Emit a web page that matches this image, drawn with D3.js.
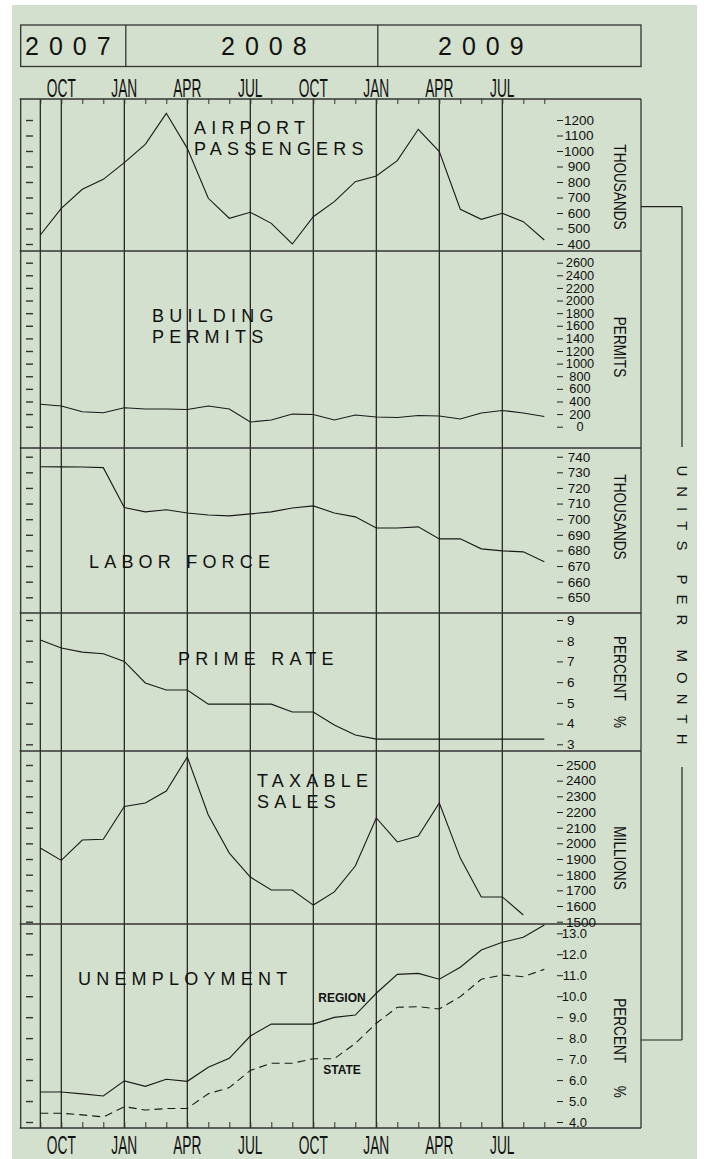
<!DOCTYPE html>
<html>
<head>
<meta charset="utf-8">
<script src="https://cdn.jsdelivr.net/npm/d3@7"></script>
<style>
  body { margin: 0; background: #fff; }
  svg text { font-family: "Liberation Sans", Arial, sans-serif; fill: #111; }
</style>
</head>
<body>
<div id="chart"></div>
<script>
// months plotted, Sep 2007 .. Sep 2009
const months = ["2007-09","2007-10","2007-11","2007-12","2008-01","2008-02","2008-03","2008-04",
  "2008-05","2008-06","2008-07","2008-08","2008-09","2008-10","2008-11","2008-12","2009-01",
  "2009-02","2009-03","2009-04","2009-05","2009-06","2009-07","2009-08","2009-09"];
const quarterMonths = ["2007-10","2008-01","2008-04","2008-07","2008-10","2009-01","2009-04","2009-07"];
const quarterLabels = ["OCT","JAN","APR","JUL","OCT","JAN","APR","JUL"];
const gridMonths = ["2007-09","2007-10","2008-01","2008-04","2008-07","2008-10","2009-01","2009-04","2009-07"];
const years = ["2007","2008","2009"];

const airportPassengers = [458,630,753,817,925,1043,1243,1017,695,566,605,533,400,576,673,802,839,938,1140,996,624,559,598,544,426];
const buildingPermits = [355,328,238,222,301,280,280,272,328,280,75,106,200,193,106,185,154,146,177,170,122,217,257,217,162];
const laborForce = [733.6,733.5,733.4,733.0,707.4,704.7,706.0,704.0,702.7,702.1,703.4,704.7,707.2,708.5,704.0,701.5,694.4,694.4,695.1,687.4,687.4,681.0,679.7,679.1,672.7];
const primeRate = [8.03,7.65,7.45,7.37,7.0,5.96,5.62,5.62,4.94,4.94,4.94,4.94,4.56,4.56,3.93,3.45,3.25,3.25,3.25,3.25,3.25,3.25,3.25,3.25,3.25];
const taxableSales = [1970,1891,2021,2026,2235,2257,2334,2551,2181,1938,1785,1702,1702,1606,1690,1855,2162,2009,2047,2257,1906,1658,1658,1543,null];
const unemploymentRegion = [5.43,5.43,5.34,5.24,5.96,5.70,6.04,5.94,6.61,7.04,8.10,8.67,8.67,8.67,8.99,9.10,10.14,11.04,11.09,10.81,11.38,12.20,12.57,12.81,13.40];
const unemploymentState = [4.42,4.42,4.34,4.24,4.73,4.57,4.64,4.65,5.35,5.64,6.46,6.80,6.80,7.02,7.02,7.75,8.71,9.47,9.50,9.39,9.98,10.81,11.01,10.93,11.28];

const airportTicks = [400,500,600,700,800,900,1000,1100,1200];
const permitTicks = [0,200,400,600,800,1000,1200,1400,1600,1800,2000,2200,2400,2600];
const laborTicks = [650,660,670,680,690,700,710,720,730,740];
const primeTicks = [3,4,5,6,7,8,9];
const taxableTicks = [1500,1600,1700,1800,1900,2000,2100,2200,2300,2400,2500];
const unempTicks = [4,5,6,7,8,9,10,11,12,13];

const width = 704, height = 1159;
const plotLeft = 20.7, plotRight = 641, plotTop = 99, plotBottom = 1128;
const panelEdges = [99, 251, 448, 613, 751, 924, 1128];
const lineColor = "#1a1a1a";

const svg = d3.select("#chart").append("svg")
  .attr("width", width).attr("height", height);

svg.append("rect")
  .attr("x", 12).attr("y", 5).attr("width", 685).attr("height", height - 5)
  .attr("fill", "#d3e0cd");

let x = d3.scalePoint().domain(months).range([40.3, 544.3]);

// header with years
let header = svg.append("g");
header.append("rect")
  .attr("x", plotLeft).attr("y", 25).attr("width", plotRight - plotLeft).attr("height", 41.5)
  .attr("fill", "none").attr("stroke", "#333").attr("stroke-width", 1.3);
[x("2008-01") + 1.5, x("2009-01") + 1.5].forEach(function(d) {
  header.append("line").attr("x1", d).attr("x2", d).attr("y1", 25).attr("y2", 66.5)
    .attr("stroke", "#333").attr("stroke-width", 1.3);
});
let yearX = [25, 221, 438];
header.selectAll(".year").data(years).enter().append("text")
  .attr("class", "year")
  .attr("x", function(d, i) { return yearX[i]; })
  .attr("y", 55)
  .attr("font-size", 25)
  .attr("letter-spacing", 10)
  .text(function(d) { return d; });

// panel frame + grid
let frame = svg.append("g");
frame.selectAll(".vgrid").data(gridMonths).enter().append("line")
  .attr("x1", function(d) { return x(d); }).attr("x2", function(d) { return x(d); })
  .attr("y1", plotTop).attr("y2", plotBottom)
  .attr("stroke", lineColor).attr("stroke-width", 1.2);
frame.selectAll(".hgrid").data(panelEdges).enter().append("line")
  .attr("x1", plotLeft - 1).attr("x2", plotRight)
  .attr("y1", function(d) { return d; }).attr("y2", function(d) { return d; })
  .attr("stroke", "#333").attr("stroke-width", 1.3);
[plotLeft, plotRight].forEach(function(d) {
  frame.append("line").attr("x1", d).attr("x2", d).attr("y1", plotTop).attr("y2", plotBottom)
    .attr("stroke", "#333").attr("stroke-width", 1.3);
});

// month ticks top and bottom
svg.append("g").attr("transform", "translate(0," + plotTop + ")")
  .call(d3.axisBottom(x).tickSize(5).tickFormat(""))
  .call(function(g) { g.select(".domain").remove(); g.selectAll("line").attr("stroke", "#333"); });
svg.append("g").attr("transform", "translate(0," + plotBottom + ")")
  .call(d3.axisTop(x).tickSize(6).tickFormat(""))
  .call(function(g) { g.select(".domain").remove(); g.selectAll("line").attr("stroke", "#333"); });

// quarter labels, tall narrow lettering
[97, 1154].forEach(function(base) {
  svg.selectAll(null).data(quarterLabels).enter().append("text")
    .attr("transform", function(d, i) {
      return "translate(" + x(quarterMonths[i]) + "," + base + ") scale(0.55,1)";
    })
    .attr("text-anchor", "middle")
    .attr("font-size", 25)
    .text(function(d) { return d; });
});

// panels
let panels = [
  { values: airportPassengers, ticks: airportTicks, domain: [400, 1200], range: [244, 120],
    unit: "THOUSANDS", unitY: 187, fmt: d3.format("d"), anchor: "middle", lx: 22, fs: 13.5,
    title: ["AIRPORT", "PASSENGERS"], tx: 194, ty: [134, 155] },
  { values: buildingPermits, ticks: permitTicks, domain: [0, 2600], range: [426.7, 262.7],
    unit: "PERMITS", unitY: 347, fmt: d3.format("d"), anchor: "middle", lx: 23, fs: 12.8,
    title: ["BUILDING", "PERMITS"], tx: 152, ty: [322, 343] },
  { values: laborForce, ticks: laborTicks, domain: [650, 740], range: [597.3, 456.7],
    unit: "THOUSANDS", unitY: 517, fmt: d3.format("d"), anchor: "middle", lx: 22, fs: 13.5,
    title: ["LABOR FORCE"], tx: 89, ty: [568] },
  { values: primeRate, ticks: primeTicks, domain: [3, 9], range: [744.3, 620],
    unit: "PERCENT\u00a0\u00a0\u00a0\u00a0%", unitY: 682, fmt: d3.format("d"), anchor: "start", lx: 10, fs: 13.5,
    title: ["PRIME RATE"], tx: 178, ty: [665] },
  { values: taxableSales, ticks: taxableTicks, domain: [1500, 2500], range: [921.7, 765],
    unit: "MILLIONS", unitY: 858, fmt: d3.format("d"), anchor: "middle", lx: 24, fs: 13.5,
    title: ["TAXABLE", "SALES"], tx: 257, ty: [787, 808] },
  { values: unemploymentRegion, extra: unemploymentState, ticks: unempTicks, domain: [4, 13], range: [1122, 933.3],
    unit: "PERCENT\u00a0\u00a0\u00a0\u00a0\u00a0\u00a0%", unitY: 1048, fmt: d3.format(".1f"), anchor: "end", lx: 30, fs: 13,
    title: ["UNEMPLOYMENT"], tx: 78, ty: [985] }
];

panels.forEach(function(p) {
  let y = d3.scaleLinear().domain(p.domain).range(p.range);

  // right axis
  svg.append("g").attr("transform", "translate(557,0)")
    .call(d3.axisRight(y).tickValues(p.ticks).tickSize(6).tickFormat(p.fmt))
    .call(function(g) {
      g.select(".domain").remove();
      g.selectAll("line").attr("stroke", "#222");
      g.selectAll("text")
        .attr("x", p.lx).attr("text-anchor", p.anchor)
        .attr("font-size", p.fs).attr("fill", "#111")
        .style("font-family", "'Liberation Sans', Arial, sans-serif");
    });

  // left ticks
  svg.append("g").attr("transform", "translate(33,0)")
    .call(d3.axisLeft(y).tickValues(p.ticks).tickSize(7).tickFormat(""))
    .call(function(g) { g.select(".domain").remove(); g.selectAll("line").attr("stroke", "#333").attr("stroke-width", 1.4); });

  // unit label
  svg.append("text")
    .attr("transform", "translate(620," + p.unitY + ") rotate(90) scale(0.8,1)")
    .attr("text-anchor", "middle").attr("dominant-baseline", "central")
    .attr("font-size", 17)
    .text(p.unit);

  // title
  p.title.forEach(function(t, i) {
    svg.append("text")
      .attr("x", p.tx).attr("y", p.ty[i])
      .attr("font-size", 18).attr("letter-spacing", 5.2)
      .text(t);
  });

  let line = d3.line()
    .defined(function(d) { return d != null; })
    .x(function(d, i) { return x(months[i]); })
    .y(function(d) { return y(d); });

  svg.append("path").datum(p.values)
    .attr("d", line).attr("fill", "none")
    .attr("stroke", lineColor).attr("stroke-width", 1.1);

  if (p.extra) {
    svg.append("path").datum(p.extra)
      .attr("d", line).attr("fill", "none")
      .attr("stroke", lineColor).attr("stroke-width", 1.1)
      .attr("stroke-dasharray", "8,5");
  }
});

// series names in the unemployment panel
svg.append("text").attr("x", 342).attr("y", 1002).attr("text-anchor", "middle")
  .attr("font-size", 12).attr("font-weight", "bold").text("REGION");
svg.append("text").attr("x", 342).attr("y", 1074).attr("text-anchor", "middle")
  .attr("font-size", 12).attr("font-weight", "bold").text("STATE");

// units per month bracket
let bx = 682;
let br = svg.append("g").attr("stroke", "#222").attr("stroke-width", 1.2);
br.append("line").attr("x1", plotRight).attr("x2", bx).attr("y1", 206.7).attr("y2", 206.7);
br.append("line").attr("x1", bx).attr("x2", bx).attr("y1", 206.7).attr("y2", 447);
br.append("line").attr("x1", bx).attr("x2", bx).attr("y1", 767).attr("y2", 1040);
br.append("line").attr("x1", plotRight).attr("x2", bx).attr("y1", 1040).attr("y2", 1040);
svg.append("text")
  .attr("transform", "translate(" + bx + ",610) rotate(90)")
  .attr("text-anchor", "middle").attr("dominant-baseline", "central")
  .attr("font-size", 15).attr("letter-spacing", 10)
  .text("UNITS PER MONTH");
</script>
</body>
</html>
